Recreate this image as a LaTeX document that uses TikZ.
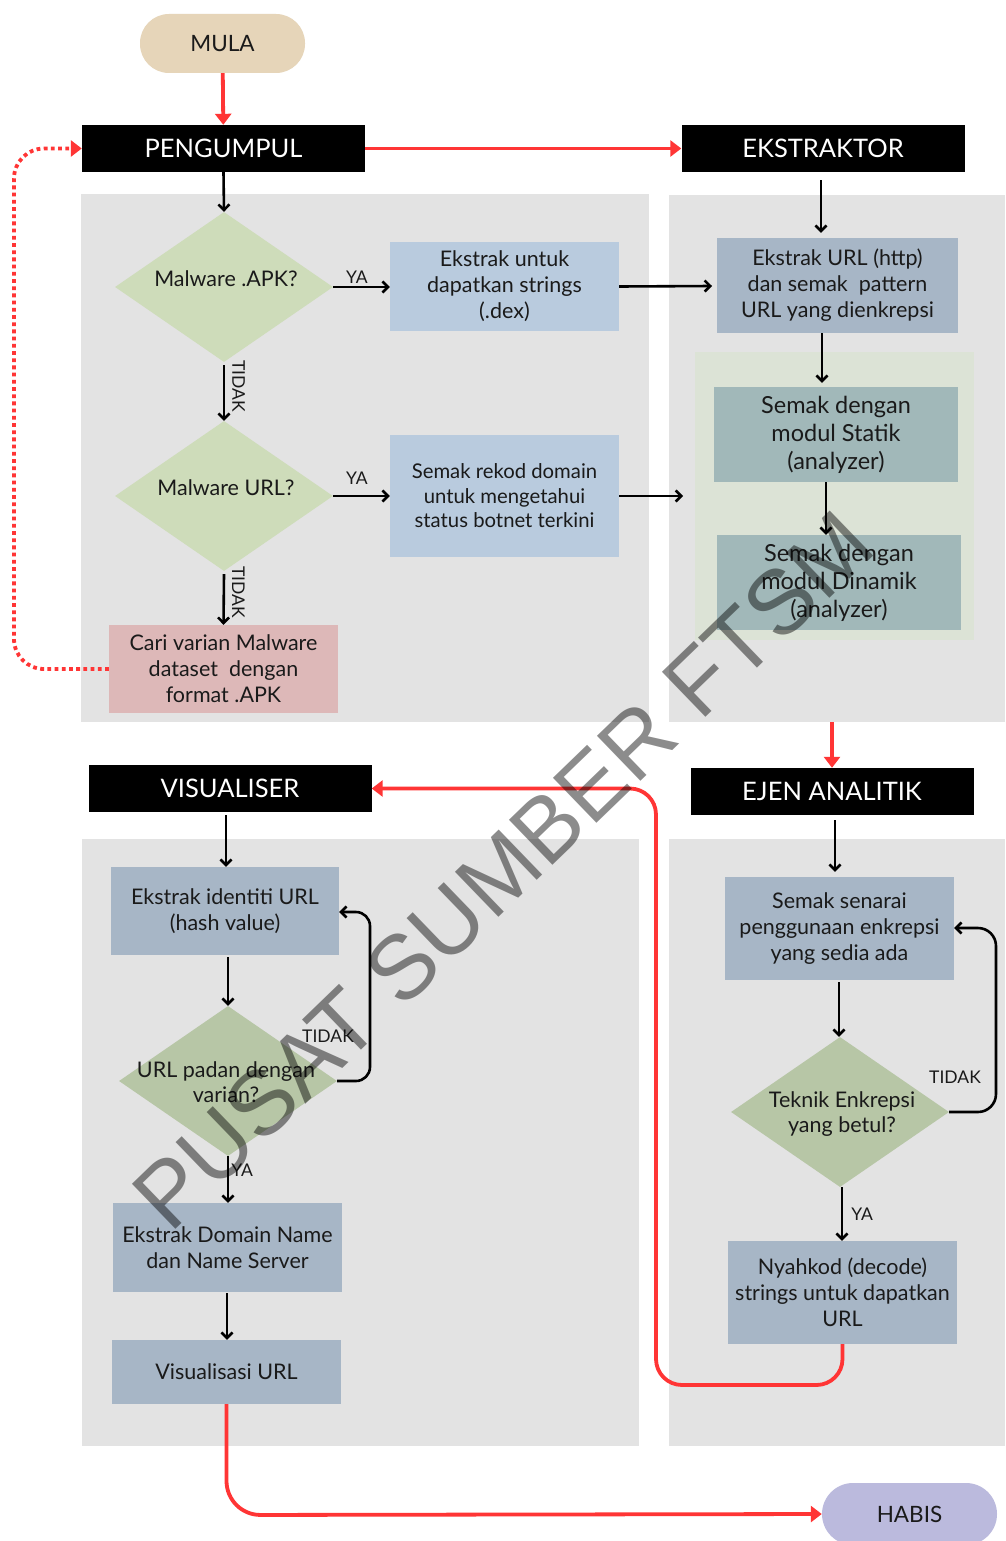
\documentclass[tikz,border=0pt]{standalone}
\usepackage{fontspec}
\setmainfont{Lato}
\newfontfamily\markfont{Liberation Sans}
\usetikzlibrary{arrows.meta,shapes.geometric}

\definecolor{panelgray}{HTML}{E3E3E3}
\definecolor{mulafill}{HTML}{E6D5B9}
\definecolor{habisfill}{HTML}{BBBADD}
\definecolor{skyfill}{HTML}{B9CBDE}
\definecolor{slatefill}{HTML}{A7B6C6}
\definecolor{tealfill}{HTML}{A1B8B9}
\definecolor{greenpanel}{HTML}{DCE3D6}
\definecolor{palegreen}{HTML}{CEDCBA}
\definecolor{sagefill}{HTML}{B7C6A6}
\definecolor{rosefill}{HTML}{DDB8B8}
\definecolor{flowred}{HTML}{FF3535}
\definecolor{inktext}{HTML}{1A1A1A}

\begin{document}
\begin{tikzpicture}[x=1pt,y=-1pt,
  panel/.style={fill=panelgray, draw=none, inner sep=0pt},
  title/.style={fill=black, text=white, minimum width=283pt, minimum height=47pt,
    inner sep=0pt, font=\fontsize{25.5}{30}\selectfont},
  terminal/.style={rounded corners=29pt, minimum height=59pt, inner sep=0pt,
    text=inktext, font=\fontsize{22.5}{26}\selectfont},
  procbox/.style={inner sep=0pt, align=center, text=inktext,
    font=\fontsize{21.5}{26}\selectfont},
  decision/.style={diamond, inner sep=0pt, minimum width=218pt, minimum height=150pt},
  dtext/.style={align=center, text=inktext, font=\fontsize{21.5}{25}\selectfont},
  lbl/.style={text=inktext, font=\fontsize{17.5}{20}\selectfont, inner sep=2pt},
  arr/.style={line width=2.6pt, -{Straight Barb[length=5.5pt,width=11pt]}},
  redarr/.style={draw=flowred, line width=3.8pt, -{Triangle[length=11pt,width=16pt]}},
]
\useasboundingbox (0,0) rectangle (1005,1541);
\fill[white] (0,0) rectangle (1005,1541);

% ---- background panels ----
\node[panel, minimum width=568pt, minimum height=528pt] (pA) at (365,458) {};
\node[panel, minimum width=336pt, minimum height=527pt] (pB) at (837,458.5) {};
\node[fill=greenpanel, inner sep=0pt, minimum width=279pt, minimum height=288pt] (pG) at (834.5,496) {};
\node[panel, minimum width=557pt, minimum height=607pt] (pC) at (360.5,1142.5) {};
\node[panel, minimum width=336pt, minimum height=607pt] (pD) at (837,1142.5) {};

% ---- start / end ----
\node[terminal, fill=mulafill, minimum width=165pt] (mula) at (222.5,43.5) {MULA};
\node[terminal, fill=habisfill, minimum width=175pt, minimum height=62pt, rounded corners=31pt]
  (habis) at (909.5,1514) {HABIS};

% ---- stage titles ----
\node[title] (peng) at (223.5,148.5) {PENGUMPUL};
\node[title] (ekst) at (823,148.5) {EKSTRAKTOR};
\node[title] (vis)  at (230,788.5) {VISUALISER};
\node[title] (ejen) at (832,791.5) {EJEN ANALITIK};

% ---- PENGUMPUL stage ----
\node[decision, fill=palegreen] (d1) at (224,287) {};
\node[dtext] at (226,279) {Malware .APK?};
\node[decision, fill=palegreen] (d2) at (224,496) {};
\node[dtext] at (226,488) {Malware URL?};
\node[procbox, fill=skyfill, minimum width=229pt, minimum height=89pt] (b1) at (504.5,286.5)
  {Ekstrak untuk\\dapatkan strings\\(.dex)};
\node[procbox, fill=skyfill, minimum width=229pt, minimum height=122pt,
  font=\fontsize{20.3}{24.5}\selectfont] (b2) at (504.5,496)
  {Semak rekod domain\\untuk mengetahui\\status botnet terkini};
\node[procbox, fill=rosefill, minimum width=229pt, minimum height=88pt] (b3) at (223.5,669)
  {Cari varian Malware\\dataset\ \ dengan\\format .APK};

% ---- EKSTRAKTOR stage ----
\node[procbox, fill=slatefill, minimum width=241pt, minimum height=95pt] (e1) at (837.5,285.5)
  {Ekstrak URL (http)\\dan semak\ \ pattern\\URL yang dienkrepsi};
\node[procbox, fill=tealfill, minimum width=244pt, minimum height=95pt,
  font=\fontsize{23.5}{28}\selectfont] (e2) at (836,434.5)
  {Semak dengan\\modul Statik\\(analyzer)};
\node[procbox, fill=tealfill, minimum width=244pt, minimum height=95pt,
  font=\fontsize{23.5}{28}\selectfont] (e3) at (839,582.5)
  {Semak dengan\\modul Dinamik\\(analyzer)};

% ---- VISUALISER stage ----
\node[procbox, fill=slatefill, minimum width=228pt, minimum height=88pt] (v1) at (225,911)
  {Ekstrak identiti URL\\(hash value)};
\node[decision, fill=sagefill] (d3) at (228,1081) {};
\node[dtext] at (226,1082) {URL padan dengan\\varian?};
\node[procbox, fill=slatefill, minimum width=229pt, minimum height=89pt] (v2) at (227.5,1247.5)
  {Ekstrak Domain Name\\dan Name Server};
\node[procbox, fill=slatefill, minimum width=229pt, minimum height=64pt] (v3) at (226.5,1372)
  {Visualisasi URL};

% ---- EJEN ANALITIK stage ----
\node[procbox, fill=slatefill, minimum width=229pt, minimum height=103pt] (a1) at (839.5,928.5)
  {Semak senarai\\penggunaan enkrepsi\\yang sedia ada};
\node[decision, fill=sagefill] (d4) at (840,1112) {};
\node[dtext] at (842,1114) {Teknik Enkrepsi\\yang betul?};
\node[procbox, fill=slatefill, minimum width=229pt, minimum height=103pt] (a2) at (842.5,1292.5)
  {Nyahkod (decode)\\strings untuk dapatkan\\URL};

% ---- connectors between stages ----
\draw[redarr] (mula) -- (peng);
\draw[redarr] (peng) -- (ekst);
\draw[redarr] (pB.south -| ejen.north) -- (ejen.north);
\draw[redarr, rounded corners=26pt] (a2.south) -- (a2.south |- 0,1385) -- (656,1385)
  -- (656,788.5) -- (vis.east);
\draw[redarr, rounded corners=34pt] (v3.south) -- (v3.south |- 0,1515) -- (habis.west);
\draw[draw=flowred, line width=3.8pt, dash pattern=on 3.8pt off 3.4pt,
  -{Triangle[length=11pt,width=16pt]}, rounded corners=30pt]
  (b3.west) -- (14,669) -- (14,148.5) -- (peng.west);

% ---- PENGUMPUL flow ----
\draw[arr] (peng.south) -- (d1.north);
\draw[arr] (d1.east) -- node[lbl, above, pos=0.42] {YA} (b1.west |- d1.east);
\draw[arr] (d1.south) ++(0,3) -- node[lbl, rotate=-90, anchor=south, pos=0.38, inner sep=7pt] {TIDAK} (d2.north);
\draw[arr] (d2.east) -- node[lbl, above, pos=0.42, yshift=8pt] {YA} (b2.west |- d2.east);
\draw[arr] (d2.south) ++(0,3) -- node[lbl, rotate=-90, anchor=south, pos=0.35, inner sep=7pt] {TIDAK} (b3.north);
\coordinate (b2out) at (683,496);
\draw[arr] (b1.east) -- (712,286);
\draw[arr] (b2.east) -- (b2out);

% ---- EKSTRAKTOR flow ----
\draw[arr, shorten <=8pt, shorten >=5pt] (ekst.south -| 821,0) -- (e1.north -| 821,0);
\draw[arr, shorten >=4pt] (e1.south -| 822,0) -- (e2.north -| 822,0);
\draw[arr] (e2.south -| 826,0) -- (e3.north -| 826,0);

% ---- VISUALISER flow ----
\draw[arr, shorten <=3pt] (vis.south -| 226,0) -- (v1.north -| 226,0);
\draw[arr, shorten <=2pt] (v1.south -| 228,0) -- (d3.north);
\draw[arr, rounded corners=14pt] (d3.east) -- (370,1081) -- (370,912) -- (v1.east |- 0,912);
\node[lbl] at (328,1036) {TIDAK};
\draw[arr] (d3.south) -- node[lbl, right, pos=0.3] {YA} (v2.north -| d3.south);
\draw[arr, shorten <=1pt] (v2.south -| 227,0) -- (v3.north -| 227,0);

% ---- EJEN ANALITIK flow ----
\draw[arr, shorten <=5pt, shorten >=5pt] (ejen.south -| 835,0) -- (a1.north -| 835,0);
\draw[arr, shorten <=2pt] (a1.south -| 839,0) -- (d4.north -| 839,0);
\draw[arr, rounded corners=18pt] (d4.east) -- (996,1112) -- (996,928) -- (a1.east |- 0,928);
\node[lbl] at (955,1077) {TIDAK};
\draw[arr] (d4.south -| 842,0) -- node[lbl, right, pos=0.5, inner sep=8pt] {YA} (a2.north -| 842,0);

% ---- watermark ----
\node[text=black, opacity=0.45, rotate=44, inner sep=0pt,
  font=\markfont\fontsize{91}{95}\selectfont] (mark) at (503,870) {PUSAT SUMBER FTSM};
\end{tikzpicture}
\end{document}
